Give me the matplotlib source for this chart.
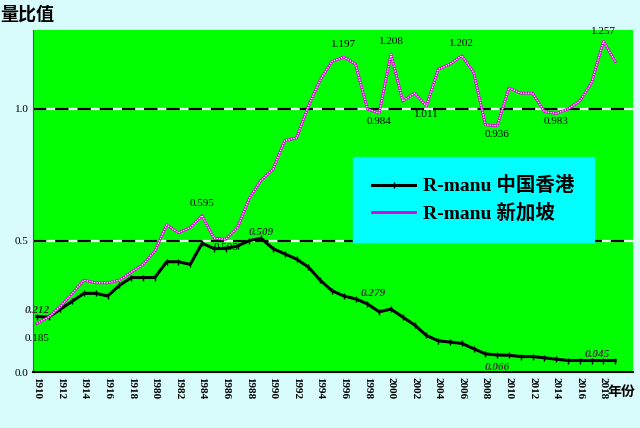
import matplotlib.pyplot as plt

plt.rcParams['font.family'] = ['Liberation Serif', 'Noto Sans CJK SC', 'DejaVu Sans']

tick_labels = ["1910", "1912", "1914", "1916", "1918", "1980", "1982", "1984", "1986", "1988",
               "1990", "1992", "1994", "1996", "1998", "2000", "2002", "2004", "2006", "2008",
               "2010", "2012", "2014", "2016", "2018"]
hk = [0.212, 0.21, 0.24, 0.27, 0.30, 0.30, 0.29, 0.33, 0.36, 0.36,
      0.36, 0.42, 0.42, 0.41, 0.49, 0.47, 0.47, 0.48, 0.50, 0.509,
      0.47, 0.45, 0.43, 0.40, 0.35, 0.31, 0.29, 0.279, 0.26, 0.23,
      0.24, 0.21, 0.18, 0.14, 0.12, 0.115, 0.11, 0.09, 0.07, 0.066,
      0.065, 0.06, 0.06, 0.055, 0.05, 0.045, 0.045, 0.045, 0.045, 0.045]
sg = [0.185, 0.21, 0.25, 0.30, 0.35, 0.34, 0.34, 0.35, 0.38, 0.41,
      0.46, 0.56, 0.53, 0.55, 0.595, 0.51, 0.505, 0.55, 0.66, 0.73,
      0.77, 0.88, 0.89, 1.01, 1.11, 1.18, 1.197, 1.17, 1.00, 0.984,
      1.208, 1.03, 1.06, 1.011, 1.15, 1.17, 1.202, 1.14, 0.94, 0.936,
      1.08, 1.06, 1.06, 0.99, 0.983, 1.00, 1.03, 1.10, 1.257, 1.18]
x = list(range(len(hk)))

fig = plt.figure(figsize=(6.4, 4.28), dpi=100, facecolor='#d8fbfb')
ax = fig.add_axes([0.052, 0.13, 0.937, 0.80])
ax.set_facecolor('#00ff00')

for yv in (0.5, 1.0):
    ax.axhline(yv, color='white', lw=1.6, zorder=1)
    ax.axhline(yv, color='black', lw=1.6, ls=(0, (6, 4)), zorder=1)

ax.plot(x, hk, color='black', lw=2.2, marker='|', ms=4, zorder=3, label='R-manu 中国香港')
ax.plot(x, sg, color='#dd00dd', lw=2.0, zorder=3, label='R-manu 新加坡')
ax.plot(x, sg, color='white', lw=0.9, ls=(0, (1, 1)), zorder=4)

for i, t, dy in [(26, '1.197', 0.03), (30, '1.208', 0.03), (36, '1.202', 0.03), (48, '1.257', 0.02),
                 (14, '0.595', 0.03)]:
    ax.text(i, sg[i] + dy, t, ha='center', va='bottom', fontsize=8)
for i, t in [(29, '0.984'), (33, '1.011'), (39, '0.936'), (44, '0.983'), (16, '0.505')]:
    ax.text(i, sg[i] - 0.015, t, ha='center', va='top', fontsize=8)
ax.text(0, sg[0] - 0.04, '0.185', ha='center', va='top', fontsize=8)
for i, t, dx in [(0, '0.212', 0), (19, '0.509', 0), (27, '0.279', 1.5), (39, '0.066', 0), (49, '0.045', -1.5)]:
    ax.text(i + dx, hk[i] + 0.005 if i != 39 else 0.0, t, ha='center', va='bottom',
            fontsize=8, style='italic', fontweight='bold', color='#333333')

ax.set_xlim(-0.3, 50.5)
ax.set_ylim(0, 1.3)
ax.set_xticks(range(0, 50, 2))
ax.set_xticklabels(tick_labels, rotation=-90, fontsize=8, fontweight='bold')
ax.set_yticks([0, 0.5, 1.0])
ax.set_yticklabels(['0.0', '0.5', '1.0'], fontsize=8)
ax.tick_params(length=0)
for s in ('top', 'right'):
    ax.spines[s].set_visible(False)
ax.spines['left'].set_color('#555555')
ax.spines['bottom'].set_linewidth(1.5)

ax.text(-0.055, 1.03, '量比值', transform=ax.transAxes, fontsize=13, fontweight='bold',
        family=['Noto Sans CJK SC'])
ax.text(48.3, -0.09, '年份', fontsize=10, fontweight='bold', family=['Noto Sans CJK SC'])

leg = ax.legend(loc='upper left', bbox_to_anchor=(0.53, 0.635), frameon=True,
                facecolor='#00ffff', edgecolor='#00ffff', framealpha=1, handlelength=2.2,
                borderpad=0.6, labelspacing=0.4, handletextpad=0.4,
                prop={'weight': 'bold', 'size': 14, 'family': ['Liberation Serif', 'Noto Sans CJK SC']})
leg.get_frame().set_boxstyle('square', pad=0.4)

fig.savefig('out.png', dpi=100, facecolor=fig.get_facecolor())
